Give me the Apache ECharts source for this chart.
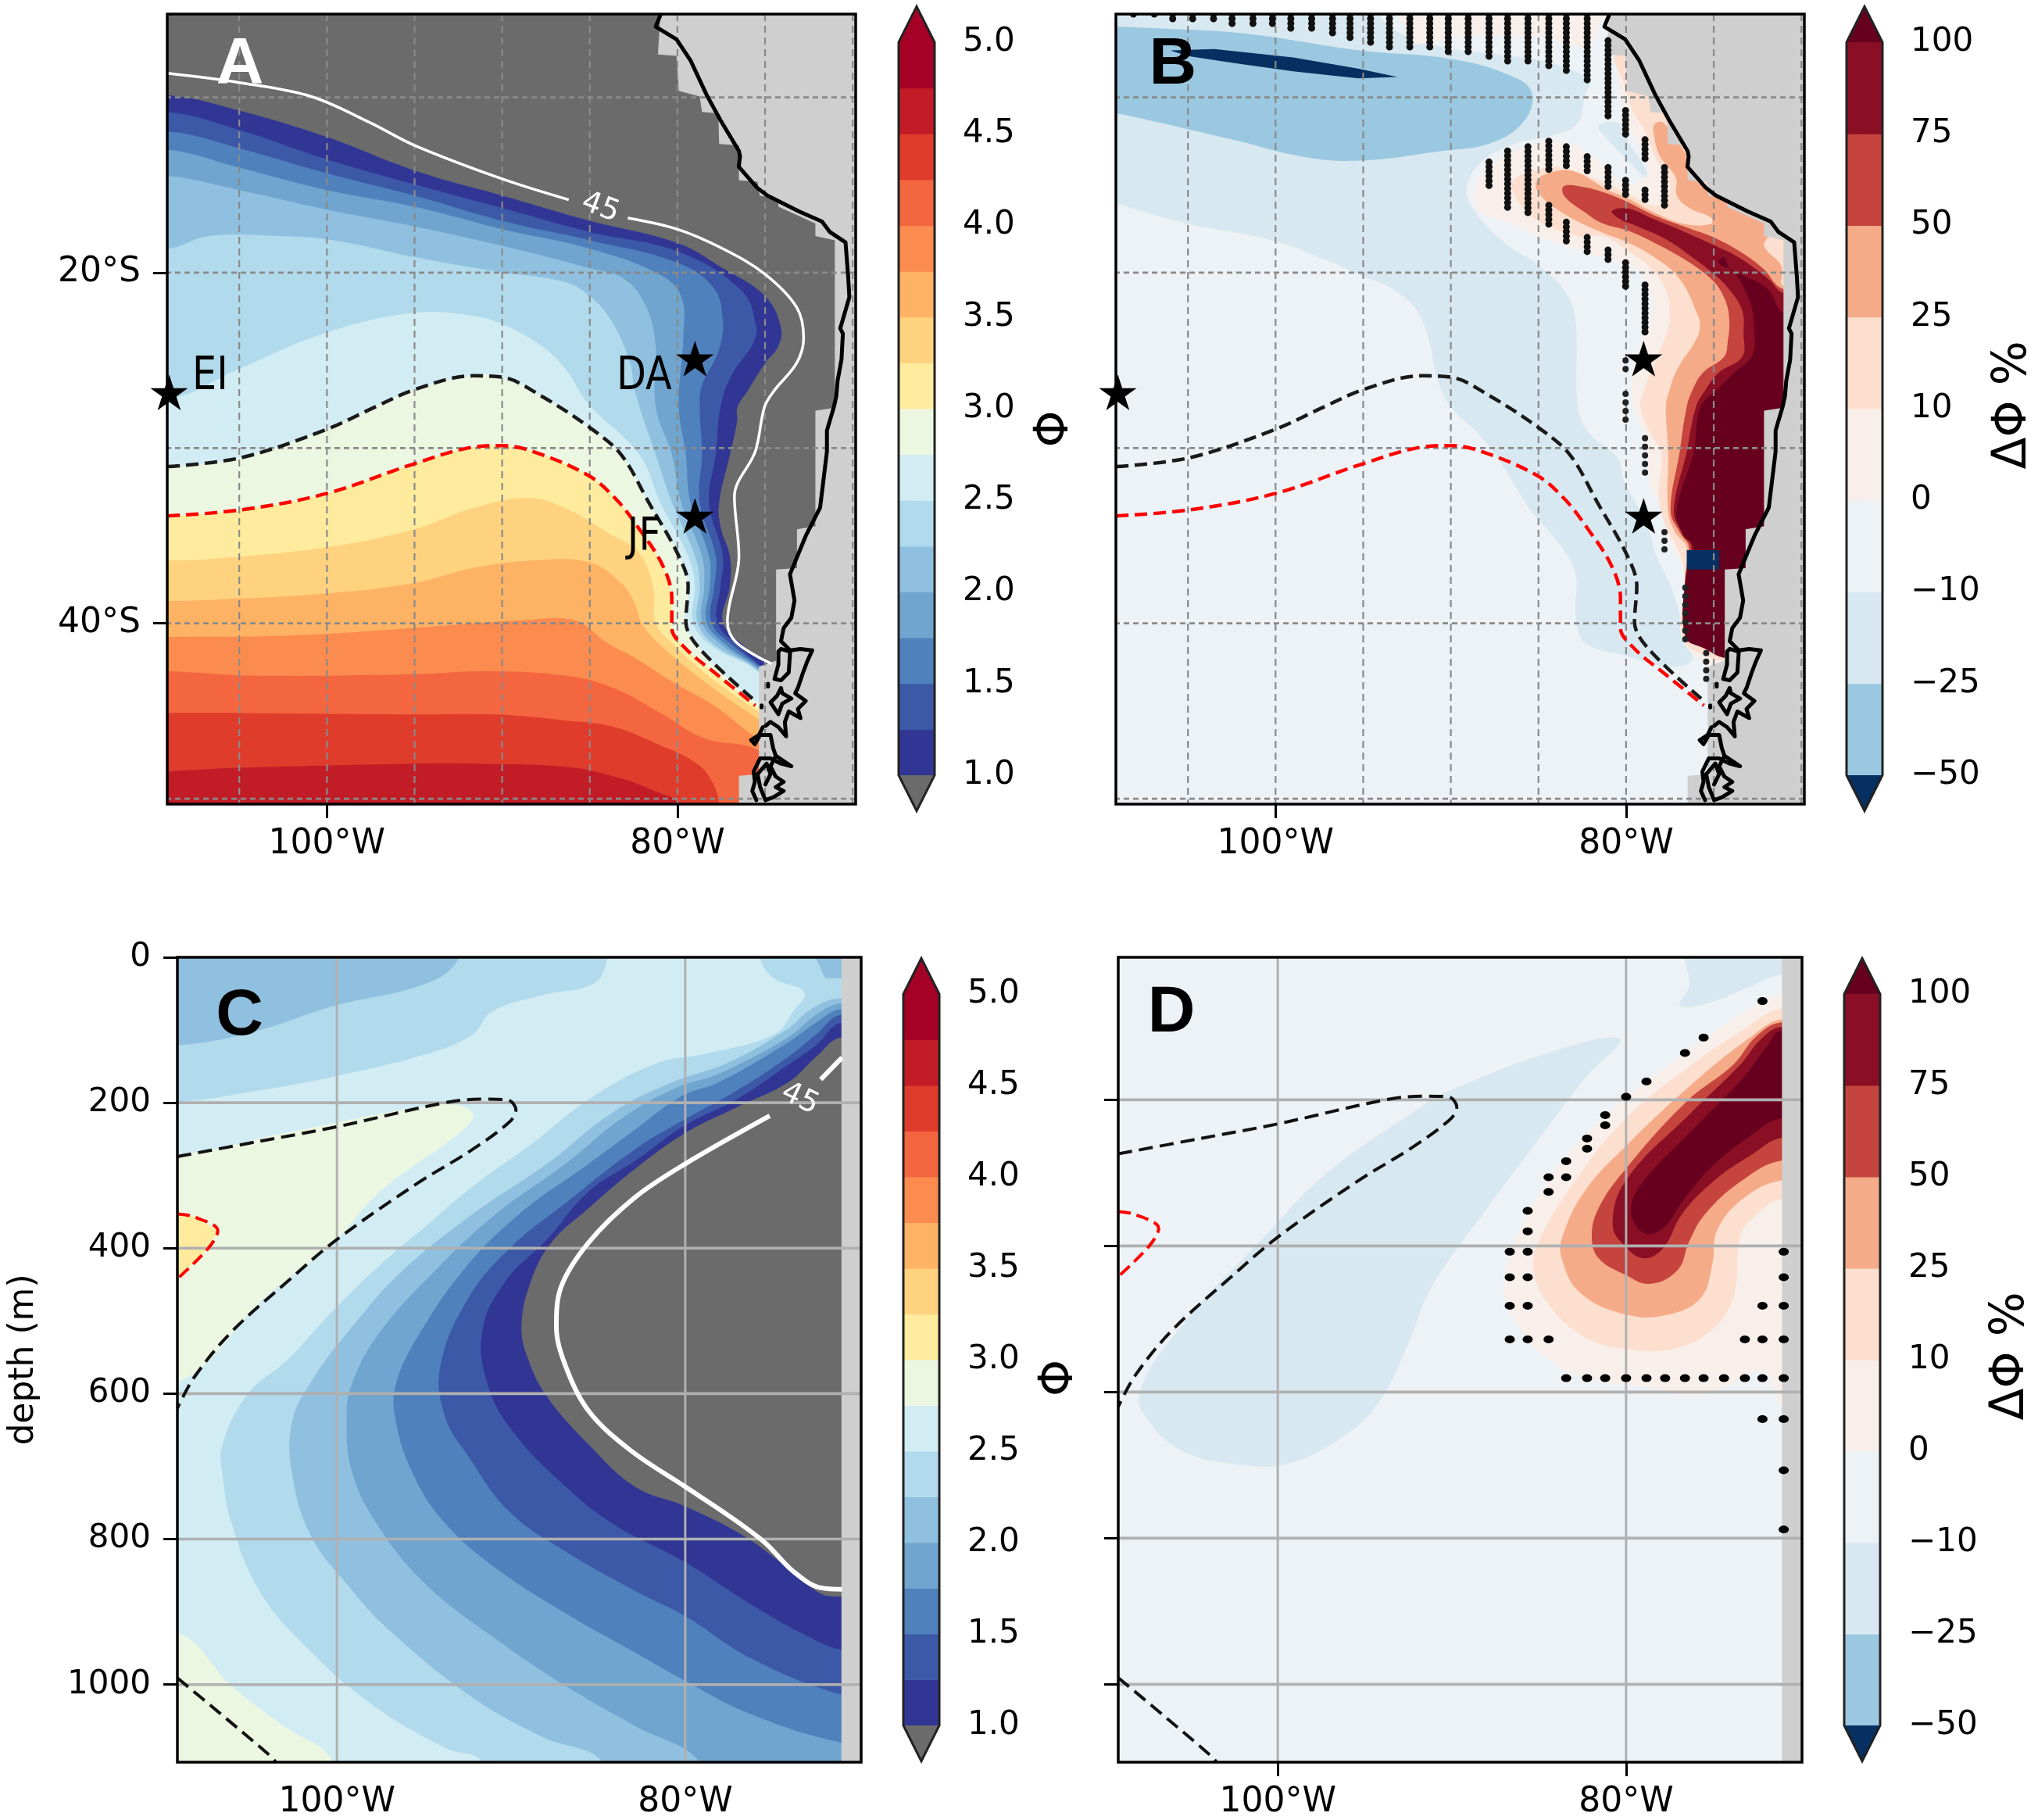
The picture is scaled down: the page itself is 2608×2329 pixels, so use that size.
<!DOCTYPE html>
<html>
<head>
<meta charset="utf-8">
<style>html,body{margin:0;padding:0;background:#fff}#chart{width:2608px;height:2329px}</style>
<script src="https://cdn.jsdelivr.net/npm/echarts@6/dist/echarts.min.js"></script>
</head>
<body>
<div id="chart"></div>
<script>
// colour bar levels
const phiLevels = [1, 1.25, 1.5, 1.75, 2, 2.25, 2.5, 2.75, 3, 3.25, 3.5, 3.75, 4, 4.25, 4.5, 4.75, 5];
const phiColors = ['#313695', '#3c59a8', '#4f81bc', '#6fa5cf', '#90c0df', '#b1daec', '#d2ecf4', '#ecf7e2',
  '#feeb9e', '#fed27f', '#fdb264', '#fc8b4f', '#f4663f', '#df3c2c', '#c21c27', '#a50026'];
const phiUnder = '#6b6b6b';
const deltaTicks = [-50, -25, -10, 0, 10, 25, 50, 75, 100];
const deltaColors = ['#9ac8e0', '#d8e8f1', '#edf2f6', '#f8efea', '#fddfcf', '#f5ab88', '#c5443e', '#8a0f25'];
const deltaUnder = '#053061';
const deltaOver = '#67001f';
const landColor = '#cfcfcf';

// panel A, phi contours as [lon W, lat S], low to high
const a100 = [[109.1,9.87],[105,10.75],[100,12.26],[95,14.17],[90,15.6],[85,17.04],[80,18.31],[77.4,19.75],[75,21.34],[74.1,23.09],[74.25,24.2],[75,25.16],[76,26.75],[76.57,27.65],[76.6,28.5],[77,30.37],[77.62,33.1],[77.54,34.5],[77.01,36.17],[77.01,37.87],[77.41,39.91],[76.22,41.28],[74.64,42.47]];
const a125 = [[109.1,10.83],[105,11.86],[100,13.54],[95,14.97],[90,16.32],[85,17.68],[80,18.79],[76.35,21.02],[75.51,23.09],[75.69,24.04],[76.88,25.8],[77.54,27.64],[77.81,30.37],[78.2,33.1],[77.41,36.17],[77.54,37.87],[77.73,39.91],[76.57,41.28],[75.2,42.47]];
const a150 = [[109.1,11.94],[105,12.9],[100,14.33],[95,15.6],[90,17.04],[85,18.15],[80,19.43],[77.94,20.86],[77.41,22.77],[77.67,24.52],[78.6,26.43],[78.73,27.64],[78.6,30.37],[78.73,33.1],[77.81,36.17],[77.89,37.87],[78.07,39.91],[76.83,41.28],[75.3,42.47]];
const a175 = [[109.1,12.98],[105,14.01],[100,15.29],[95,16.24],[90,17.52],[85,18.63],[81.1,20.06],[79.79,21.34],[79.66,23.57],[79.92,27.64],[79.52,30.37],[79.26,33.1],[78.2,36.17],[78.15,37.87],[78.34,39.91],[77.15,41.28],[75.4,42.5]];
const a200 = [[109.1,14.49],[105,15.29],[100,16.4],[95,17.36],[90,18.47],[85,19.75],[83,20.38],[81.77,21.97],[81.24,24.2],[81.24,27.64],[80.32,30.37],[79.79,33.1],[78.6,36.17],[78.47,37.87],[78.6,39.91],[77.41,41.28],[75.5,42.55]];
const a225 = [[109.1,18.63],[106.74,17.91],[102.77,17.91],[99.6,18.15],[95,19.11],[90,19.98],[86.4,20.54],[85,21.34],[83.75,22.77],[82.7,25.16],[82.43,26.75],[81.24,30.37],[80.32,33.1],[79,36.17],[78.73,37.87],[78.86,39.91],[77.81,41.28],[75.5,42.6]];
const a250 = [[109.1,27.23],[105,25.48],[100,23.41],[95,22.29],[91.68,22.45],[90,22.93],[87.71,24.2],[86.39,25.48],[85.02,27.55],[82.17,30.37],[80.98,33.1],[79.39,36.17],[79,37.87],[79.13,39.91],[78.07,41.28],[75.5,42.7]];
const blackA = [[109.1,31.06],[104.89,30.55],[100,28.93],[97.23,27.65],[95,26.67],[91.68,25.88],[90,25.96],[87.71,27.07],[85.02,28.82],[83.22,30.37],[81.64,33.1],[79.92,36.17],[79.39,37.87],[79.52,39.91],[78.73,41.45],[75.56,44.43]];
const redA = [[109.1,33.87],[104.89,33.53],[100,32.59],[95,30.89],[91.68,29.95],[90,29.86],[88.24,30.2],[85.07,31.57],[83.49,32.93],[82.17,34.63],[80.85,36.68],[80.32,38.55],[80.32,40.26],[79.52,41.45],[77.67,42.98],[75.56,44.68]];
const a325 = [[109.1,36.42],[106.74,36.34],[100,35.66],[95,34.63],[91.68,33.44],[88.51,32.85],[86.39,33.44],[83.75,34.97],[82.17,36],[81.37,38.04],[81.24,40],[80.32,41.11],[78.47,42.81],[75.4,45.03]];
const a350 = [[109.1,38.72],[106.21,38.64],[100,38.3],[95,37.7],[91.68,36.85],[88.24,36.42],[85.07,36.51],[83.22,37.7],[82.43,38.9],[82.03,40],[81.11,41.11],[78.47,43.32],[75.4,45.45]];
const a375 = [[109.1,40.77],[101.72,40.68],[95,40.26],[88.77,39.83],[85.87,39.83],[84.02,41.11],[82.17,42.13],[80.32,43.32],[77.94,44.68],[75.4,46.56]];
const a400 = [[109.1,42.73],[104.36,42.98],[95,42.9],[90.89,42.73],[86.39,42.98],[83.75,43.66],[81.11,45.03],[78.47,46.56],[75.4,47.24]];
const a425 = [[109.1,45.11],[106.21,45.11],[95,45.2],[90.36,45.2],[86.39,45.54],[83.75,45.88],[81.11,46.9],[79,47.92],[78.07,48.94],[77.62,50.31],[77.6,52]];
const a450 = [[109.1,48.43],[105.68,48.26],[95,48],[91.68,48],[86.39,48.18],[83.75,48.69],[81.11,49.63],[79.92,50.31],[79.8,52]];
const white45A1 = [[109.1,8.63],[105,9.16],[100.9,9.95],[97.5,11.46],[95,12.74],[90,14.65],[86.2,15.84]];
const white45A2 = [[82.83,16.88],[80,17.52],[77.41,18.63],[75.03,20.06],[73.2,21.97],[72.8,23.73],[73.2,25.16],[74.5,26.75],[75.03,27.65],[75.56,30.2],[76.75,32.76],[76.49,36.17],[77.15,39.91],[76.62,41.11],[74.64,42.3]];

// land and coast
const landMask = [[80.98,0],[80.98,5.33],[81.11,7.56],[80.05,7.64],[79.92,9.63],[78.73,9.95],[78.6,10.83],[77.67,10.91],[77.62,12.66],[76.49,12.74],[76.49,14.73],[75.43,14.81],[75.3,15.6],[74.24,15.84],[74.24,16.24],[73.18,16.72],[72.13,17.2],[72.13,17.91],[71.02,18.15],[71.02,27.7],[72.13,27.87],[72.13,34.46],[73.18,34.63],[73.18,36.85],[74.37,36.93],[74.37,42.13],[75.35,42.47],[75.35,48.6],[76.49,48.69],[76.49,52],[60,52],[60,0]];
const coast = [[80.98,5.33],[81.24,5.97],[80.05,6.69],[79.26,7.88],[78.33,9.87],[77.54,11.31],[76.49,13.06],[76.43,13.37],[76.5,13.96],[75.46,15.15],[74.87,15.6],[73.09,16.49],[71.75,17.08],[71.3,17.68],[70.41,18.27],[70.26,20.2],[70.19,21.39],[70.71,23.18],[70.56,23.47],[70.64,24.96],[70.86,26.15],[70.94,27.07],[71.07,27.65],[71.47,29],[71.47,30.2],[71.86,33.4],[72.66,34.97],[73.58,37.2],[73.32,38.7],[73.5,39.68],[73.94,40.27],[74.09,41.02],[73.57,41.54]];
const fjord1 = [[74.09,41.46],[73.57,41.61],[73.65,42.8],[74.09,43.25],[74.46,43.17],[74.24,42.35],[74.24,41.61],[74.09,41.46]];
const fjord2 = [[73.57,41.54],[72.98,41.46],[72.31,41.54],[72.61,42.21],[72.83,42.8],[73.13,43.69],[73.28,43.99],[72.68,44.43],[73.13,44.88],[72.98,45.4],[73.65,45.03],[73.87,45.62],[73.8,46.44],[74.24,45.92],[74.69,45.62],[74.98,45.85]];
const fjord3 = [[74.09,43.69],[74.32,44.14],[74.69,44.51],[74.24,45.18],[74.02,44.58],[73.5,44.29],[74.02,43.99],[74.09,43.69]];
const fjord4 = [[75.13,45.92],[75.35,46.37],[75.8,46.66],[75.58,46.89],[75.28,46.37],[74.69,46.37],[74.54,47.11],[74.39,47.55],[73.5,48.15],[74.09,48],[74.69,47.7],[75.28,47.7],[75.65,48.45],[75.58,49.04],[75.73,49.56],[75.5,50.08]];
const fjord5 = [[74.39,47.55],[74.69,48.15],[74.39,48.74],[73.94,49.04],[74.39,49.34],[73.94,49.56],[74.54,49.93],[74.98,50.08],[75.28,49.34],[75.43,48.6],[74.91,48],[74.69,48.6],[74.98,49.19]];
const islet1 = [[74.83,43.45],[74.83,43.6]];
const islet2 = [[75.2,44.68],[75.2,44.8]];
const sites = [[109,26.83],[79,24.9],[79,33.87]];

// panel B, delta phi regions
const bLight = [[112,5],[94.5,5],[93.45,6.05],[90.28,7.17],[86.58,7.64],[83.94,8.12],[82.09,9.08],[82.35,9.87],[82.75,11.46],[83.94,12.1],[86.58,12.74],[88.43,13.85],[89.09,15.29],[88.69,16.4],[87.11,18.15],[84.99,19.59],[83.41,21.18],[82.88,22.77],[82.75,27.65],[82.09,29.18],[80.5,30.55],[80.11,31.9],[79.18,33.6],[78.65,34.8],[78.26,36.17],[77.33,38.2],[76.67,40.6],[76.27,42.13],[77.6,42.47],[79.97,41.87],[82.35,41.11],[82.88,39.57],[82.88,37.19],[83.67,35.66],[85.52,33.44],[87.11,30.89],[88.43,29.18],[90.01,27.65],[90.8,25.96],[91.2,24.04],[91.86,22.29],[93.18,21.02],[95.19,20.14],[97.15,19.27],[100.2,18.15],[105.07,17.2],[109.04,16.08],[112,15.3]];
const bWedge = [[81.56,11.62],[80.5,11.46],[79.97,12.42],[78.92,14.01],[78.65,14.8],[79.97,13.54],[81.03,12.42]];
const bMid = [[112,5.9],[109.04,5.97],[106.92,6.05],[101.64,6.37],[95.19,7.32],[90.01,7.8],[86.58,8.76],[85.39,9.71],[85.79,11.31],[87.64,12.58],[90.54,13.06],[95.19,13.61],[98.47,13.38],[102.43,12.42],[109.04,10.91],[112,10.4]];
const bDark = [[106,7.32],[103.49,7.24],[99,7.72],[95.3,8.36],[93.05,8.84],[95.3,8.92],[99,8.52],[102.43,8.04],[105.07,7.64]];
const bTopWarm = [[93.2,5],[92,7],[89,6.5],[85,6.5],[82,7.3],[81.2,5]];
const bGe0 = [[81.16,6.05],[80.63,7.48],[80.37,9.71],[79.97,11.46],[79.31,12.74],[78.78,14.33],[79.97,14.97],[81.29,13.85],[82.62,12.9],[83.94,12.5],[86.05,12.9],[87.64,13.85],[88.56,14.97],[88.43,16.4],[86.58,17.2],[83.94,18.31],[80.77,19.3],[79.47,19.76],[78.73,20.8],[78.5,22.29],[79.17,24.07],[79.62,25.7],[79.58,27.65],[78.92,29.35],[78.65,31.9],[77.99,33.6],[77.6,35.14],[76.67,37.19],[76.8,40.9],[74.95,42.6],[74.16,43],[68,43],[68,5],[81,5]];
const bGe10 = [[80.5,7.56],[68,7.5],[68,43],[74.29,42.13],[75.22,41.96],[76.75,40.9],[76.67,37.19],[77.01,35.83],[77.73,34.46],[78.13,32.76],[77.99,30.2],[78.52,29.35],[79.18,27.64],[78.88,26.45],[78.43,25.26],[77.69,23.47],[77.51,22.43],[77.69,21.1],[78.43,19.91],[79.92,18.72],[81.4,17.9],[82.62,17.95],[84.99,17.04],[86.18,15.92],[86.45,14.81],[85.26,14.17],[83.67,14.01],[81.82,14.65],[79.97,15.45],[78.28,16.19],[77.47,15.15],[78.36,13.37],[78.92,11.94],[79.58,10.83],[80.11,9.24]];
const bGe25 = [[78.39,11.54],[77.86,11.46],[76.54,13.38],[76.27,14.49],[74.95,15.45],[72.18,16.88],[71.9,17.83],[72.12,18.5],[71.15,19.61],[71,20.8],[68,21],[68,43],[74.69,41.79],[76.01,41.19],[76.62,40.77],[76.62,37.36],[76.54,35.66],[77.2,34.8],[77.6,33.6],[77.6,30.2],[77.73,27.64],[77.54,26.74],[77.1,25.55],[75.98,23.77],[75.79,23.03],[75.91,22.43],[76.95,20.35],[78.43,19.09],[79.92,18.27],[81.82,17.52],[83.67,16.56],[84.86,15.61],[85.13,14.81],[84.2,14.25],[82.88,14.25],[81.03,15.29],[79.92,15.75],[78.43,16.56],[76.65,17.23],[75.16,17.23],[75.16,16.86],[76.35,16.34],[77.1,15.6],[77.17,14.56],[78.06,13.37],[78.39,12.26]];
const bGe50 = [[83.54,15.05],[82.35,15.13],[81.4,15.38],[80.06,15.9],[78.43,16.71],[76.65,17.38],[74.86,18.05],[73.38,18.87],[72.19,19.76],[71,20.95],[68,21],[68,43],[74.42,41.79],[75.75,41.28],[76.62,40.77],[76.62,37.36],[76.41,35.66],[76.94,34.8],[77.46,33.6],[76.94,30.2],[76.54,27.65],[76.2,26.67],[75.61,25.7],[74.42,24.81],[74.2,23.92],[74.12,22.58],[74.42,21.39],[75.16,20.35],[76.8,19.16],[78.43,18.27],[79.92,17.6],[81.4,17.16],[82.35,16.56],[83.54,15.61]];
const bGe75 = [[80.81,16.49],[79.92,16.34],[78.43,16.94],[76.65,17.68],[75.01,18.42],[73.53,19.16],[71.9,20.35],[71,21.17],[68,21.5],[68,43],[74.42,41.85],[75.61,41.36],[76.6,40.8],[76.6,37.4],[76.27,35.66],[76.8,34.8],[77.28,33.6],[76.54,30.2],[76.01,27.65],[75.46,26.67],[74.72,25.7],[73.38,24.81],[73.3,23.47],[73.38,22.14],[74.12,20.95],[75.01,20.06],[76.36,19.02],[77.69,18.12],[79.47,17.31],[80.36,16.94]];
const bGe100 = [[74.42,19.09],[74.05,19.83],[73.53,20.06],[71.9,20.95],[71,22.29],[68,22.5],[68,43],[74.42,41.96],[75.48,41.45],[76.6,40.77],[76.6,37.4],[76.14,35.66],[76.75,34.97],[77.12,33.6],[76.14,30.2],[75.75,27.65],[74.79,26.67],[73.83,25.7],[72.79,24.66],[72.72,22.88],[72.93,21.69],[73.83,19.98],[74.72,19.46]];
const bBox = [[76.54,35.83],[74.69,35.83],[74.69,36.93],[76.54,36.93]];

// panel B stippling, columns as [lon W, lat start, lat end]
const stippleDense = [[108.11,5.25,5.41],[106.92,5.25,5.49],[105.87,5.25,5.57],[104.73,5.25,5.57],[103.54,5.25,5.6],[102.48,5.25,5.89],[101.29,5.25,5.89],[100.18,5.25,5.89],[99.13,5.25,6.18],[97.94,5.25,6.18],[96.75,5.25,6.5],[95.75,5.25,6.82],[94.58,5.25,7.09],[93.5,5.25,7.25],[92.34,5.25,7.25],[91.2,5.25,7.25],[90.15,5.25,7.48],[89.01,5.25,7.48],[87.82,5.25,7.83],[86.76,5.25,8.12],[85.6,5.25,8.12],[84.41,5.25,8.36],[83.41,5.25,8.57],[82.22,5.25,9.16],[81.03,6.77,11.31],[80.03,10.75,12.34],[78.92,12.42,13.69],[87.82,13.69,15.29],[86.76,13.06,16.48],[85.6,12.82,16.8],[84.41,12.5,14.25],[84.41,16.16,17.36],[83.41,12.82,14.01],[83.41,17.12,18.23],[82.22,13.38,14.25],[82.22,17.99,18.95],[81.03,14.01,15.29],[81.03,18.71,19.27],[80.03,14.73,15.61],[80.03,19.43,20.78],[78.92,15.29,16.08],[77.81,14.01,16.4],[78.92,20.7,23.49]];
const stippleSparse = [[80.03,25,25.88],[80.03,26.91,28.67],[78.92,29.44,31.74],[77.81,34.8,36],[76.62,37.96,41.36],[75.43,41.7,43.49]];

// panel C, phi at depth as [lon W, depth m]
const cGreen1 = [[109.16,272],[102.85,241],[93.8,202],[92.2,214],[92.73,237],[97.52,322],[100.19,392],[104.18,469],[109.16,585],[115,585],[115,272]];
const cGreen2 = [[109.16,929],[106.05,1002],[103.12,1056],[100.19,1107],[100,1200],[115,1200],[115,929]];
const cYellow = [[109.16,353],[108.18,357],[106.84,376],[107.38,400],[109.16,442],[115,442],[115,353]];
const cCap250 = [[109.16,199],[104.45,183],[100.19,164],[94.86,133],[92.2,106],[91.13,75],[88.2,52],[85.27,36],[84.47,1.5],[84.3,-50],[115,-50],[115,199]];
const cCap225 = [[109.16,121],[104.71,102],[100.19,67],[94.86,36],[93,1.5],[92.8,-50],[115,-50],[115,121]];
const cCorner225 = [[72.49,1.5],[71.96,29],[71,29],[65,29],[65,-50],[72.5,-50]];
const c250 = [[75.69,1.5],[74.89,29],[73.16,48],[73.82,75],[74.89,106],[78.88,133],[81.54,145],[85.27,191],[89,260],[92.2,315],[94.86,369],[97.52,423],[100.19,485],[102.85,554],[105.11,600],[106.58,670],[106.58,709],[106.05,778],[104.45,871],[101.78,948],[98.06,1026],[93.8,1087],[91.66,1107],[91,1200],[65,1200],[65,-50],[75.69,-50]];
const c225 = [[71,56],[72.76,71],[74.09,98],[77.55,145],[80.75,172],[84.21,214],[87.94,284],[92.2,353],[96.19,430],[98.85,500],[101.52,585],[102.58,639],[102.58,709],[101.52,794],[99.39,863],[97,925],[92.2,1018],[88.2,1072],[84.74,1107],[84,1200],[65,1200],[65,56]];
const c200 = [[71,63],[72.49,79],[74.09,110],[78.08,160],[80.48,179],[83.67,222],[86.87,284],[90.87,353],[94.33,430],[97.52,515],[99.12,585],[99.44,631],[99.12,709],[97.52,786],[94.86,863],[91.13,933],[86.87,1002],[82.88,1057],[79.15,1107],[78,1200],[65,1200],[65,63]];
const c175 = [[71,71],[72.49,90],[74.09,117],[78.08,172],[80.21,191],[82.88,237],[85.54,284],[89.53,353],[92.73,430],[95.39,523],[96.59,585],[96.67,631],[95.66,709],[93.8,778],[90.87,840],[86.87,902],[82.88,956],[80,995],[76.22,1041],[71,1080],[65,1100],[65,71]];
const c150 = [[71,79],[72.49,106],[74.09,137],[77.02,183],[79.95,222],[82.88,264],[86.87,338],[90.07,400],[92.46,469],[94.06,562],[93.8,631],[92.46,686],[90.07,763],[86.87,817],[82.88,871],[80,906],[76.22,964],[71,1014],[65,1040],[65,79]];
const c125 = [[71,90],[72.49,121],[74.09,148],[77.02,195],[79.95,230],[82.88,280],[85.54,322],[87.94,388],[90.33,446],[91.66,515],[91.27,593],[89.8,655],[87.4,716],[84.21,778],[80,832],[76.22,890],[73.02,933],[71,952],[65,960],[65,90]];
const c100 = [[71,110],[72.49,137],[74.09,172],[77.02,206],[79.95,241],[82.88,291],[85.54,345],[87.67,392],[88.87,446],[89.4,508],[89,554],[87.94,604],[85.54,670],[82.88,728],[80,755],[76.75,794],[74.09,840],[72.22,875],[71,879],[65,880],[65,110]];
const blackTongue = [[109.16,274],[104.45,253],[100,233],[93.8,200],[91.66,195],[90.2,196],[89.72,210],[90.07,226],[92.2,264],[95.39,311],[100,388],[102.85,446],[106.05,515],[108.18,577],[109.16,620]];
const blackBottom = [[109.16,991],[106.84,1037],[103.78,1099],[103.5,1107]];
const redPatch = [[109.16,353],[108.18,357],[106.84,376],[107.38,400],[109.16,442]];
const white45C1 = [[71,138],[72.22,168]];
const white45C2 = [[75.15,218],[80,284],[82.88,330],[85.54,392],[87.14,454],[87.4,508],[86.87,562],[85.54,624],[83.14,678],[80,728],[77.55,767],[75.42,805],[73.82,844],[72.22,867],[71,869]];

// panel D, delta phi at depth
const dLight = [[80.37,117],[83.97,132],[90.36,190],[92.22,217],[97.28,302],[100.75,387],[105.27,502],[107.94,602],[107.14,648],[105.27,683],[102.61,698],[99.41,698],[95.95,656],[94.09,610],[92.49,533],[91.16,456],[87.96,348],[85.3,263],[82.37,171]];
const dLightTop = [[76.64,5],[76.38,44],[76.91,71],[75.18,67],[72.78,44],[71.05,29],[65,29],[65,-50],[76.64,-50]];
const dGe0 = [[71.05,55],[73.32,82],[77.31,148],[81.3,225],[84.23,302],[86.36,394],[87.03,456],[86.36,502],[85.03,544],[82.64,579],[78.64,594],[75.98,606],[73.85,587],[72.25,571],[71.45,594],[71.05,617],[65,620],[65,55]];
const dGe10 = [[71.05,75],[73.32,105],[76.24,152],[80,225],[82.9,310],[85.03,394],[85.3,433],[84.5,479],[82.37,525],[80,541],[77.31,541],[75.18,517],[73.85,471],[73.45,387],[72.78,363],[71.05,336],[65,330],[65,75]];
const dGe25 = [[71.05,90],[72.78,113],[76.24,179],[80,263],[82.37,325],[83.65,387],[83.7,417],[82.64,464],[80,494],[77.58,494],[75.71,471],[75.05,425],[74.78,379],[73.32,336],[71.05,310],[65,300],[65,90]];
const dGe50 = [[71.05,94],[72.52,113],[73.85,152],[76.51,202],[80,294],[81.57,348],[81.97,387],[81.57,417],[80,440],[78.64,452],[77.04,433],[76.38,394],[75.45,356],[73.32,310],[71.05,283],[65,275],[65,94]];
const dGe75 = [[71.05,100],[72.25,117],[73.45,152],[76.24,217],[80,310],[80.77,371],[80,402],[78.91,417],[77.84,402],[76.78,356],[74.91,310],[72.78,275],[71.05,252],[65,245],[65,100]];
const dGe100 = [[71.05,105],[71.98,129],[73.32,171],[75.98,236],[79.17,317],[79.71,356],[78.91,383],[77.84,375],[76.78,340],[75.18,294],[72.78,248],[71.05,225],[65,215],[65,105]];
const dDots = [[72.17,65],[75.55,115],[76.62,136],[78.83,175],[80,196],[81.2,221],[81.2,235],[82.24,253],[82.24,267],[83.44,284],[83.44,306],[84.45,306],[84.45,326],[85.65,352],[85.65,380],[86.68,408],[85.65,408],[70.95,408],[86.68,443],[85.65,443],[70.95,443],[86.68,482],[85.65,482],[72.17,482],[70.95,482],[86.68,528],[85.65,528],[84.45,528],[73.18,528],[72.17,528],[70.95,528],[83.44,581],[82.24,581],[81.2,581],[80,581],[78.83,581],[77.76,581],[76.62,581],[75.55,581],[74.38,581],[73.18,581],[72.17,581],[70.95,581],[72.17,637],[70.95,637],[70.95,707],[70.95,788]];

// axis ticks and grid
const lonTicks = [100, 80];
const latTicks = [20, 40];
const depthTicks = [0, 200, 400, 600, 800, 1000];
const mapLonGrid = [105, 100, 95, 90, 85, 80, 75, 70];
const mapLatGrid = [10, 20, 30, 40, 50];
const secLonGrid = [100, 80];
const secDepthGrid = [200, 400, 600, 800, 1000];

const FONT = '"DejaVu Sans"';
const starPath = 'path://M0 -100L22.5 -30.9L95.1 -30.9L36.3 11.8L58.8 80.9L0 38.2L-58.8 80.9L-36.3 11.8L-95.1 -30.9L-22.5 -30.9Z';

// grid 0-3 the panels, 4-7 the colour bars
const panels = [
  { left: 214, top: 18, width: 881, height: 1011, x: [69.83, 109.11], y: [5.25, 50.31] },
  { left: 1428, top: 18, width: 881, height: 1011, x: [69.83, 109.11], y: [5.25, 50.31] },
  { left: 227, top: 1225, width: 875, height: 1030, x: [69.9, 109.16], y: [0, 1106.7] },
  { left: 1431, top: 1225, width: 875, height: 1030, x: [69.9, 109.16], y: [5, 1106.5] }
];
const bars = [
  { left: 1150, top: 54, width: 46, height: 938 },
  { left: 2363, top: 54, width: 46, height: 938 },
  { left: 1156, top: 1272, width: 46, height: 936 },
  { left: 2360, top: 1272, width: 46, height: 936 }
];

// one custom series: polygons, polylines and texts through the axis scales
function layer(g, items, z, clip) {
  return {
    type: 'custom', coordinateSystem: 'cartesian2d', xAxisIndex: g, yAxisIndex: g,
    clip: clip !== false, silent: true, z: z, animation: false,
    data: items.map((_, i) => [i]),
    renderItem: (params, api) => {
      const it = items[params.dataIndex];
      if (it.text) {
        const p = api.coord(it.at);
        return { type: 'text', x: p[0], y: p[1], rotation: it.rotation || 0, scaleX: it.scaleX || 1,
          style: { text: it.text, font: it.font, fill: it.color || '#000', align: 'center', verticalAlign: 'middle' } };
      }
      const pts = it.pts.map(p => api.coord(p));
      if (it.fill) {
        return { type: 'polygon', shape: { points: pts, smooth: it.smooth || 0 },
          style: { fill: it.fill, stroke: it.stroke, lineWidth: it.width || 0 } };
      }
      return { type: it.closed ? 'polygon' : 'polyline', shape: { points: pts },
        style: { fill: 'none', stroke: it.stroke, lineWidth: it.width, lineDash: it.dash, lineCap: it.cap || 'butt' } };
    }
  };
}

function contour(g, pts, color, width, dash) {
  return {
    type: 'line', xAxisIndex: g, yAxisIndex: g, data: pts, symbol: 'none', smooth: 0.35, clip: true, silent: true,
    z: 6, animation: false, lineStyle: { color: color, width: width, type: dash || 'solid' }
  };
}

function coastLine(g, pts) {
  return { type: 'line', xAxisIndex: g, yAxisIndex: g, data: pts, symbol: 'none', clip: true, silent: true,
    z: 5, animation: false, lineStyle: { color: '#000', width: 5, join: 'round', cap: 'round' } };
}

function stars(g) {
  return { type: 'scatter', xAxisIndex: g, yAxisIndex: g, data: sites, symbol: starPath, symbolSize: 48,
    symbolKeepAspect: true, clip: true, silent: true, z: 7, animation: false, itemStyle: { color: '#000', opacity: 1 } };
}

// closes a contour that runs from the west edge to the coast around the south side
function southWest(curve) {
  const first = curve[0];
  return curve.concat([[60, 56], [115, 56], [115, first[1]]]);
}

function rectOf(p) {
  return [[p.x[0], p.y[0]], [p.x[1], p.y[0]], [p.x[1], p.y[1]], [p.x[0], p.y[1]]];
}

function gridLines(p, lons, lats, stroke, width, dashV, dashH) {
  const out = [];
  lons.forEach(v => out.push({ pts: [[v, p.y[0]], [v, p.y[1]]], stroke: stroke, width: width, dash: dashV }));
  lats.forEach(v => out.push({ pts: [[p.x[0], v], [p.x[1], v]], stroke: stroke, width: width + 0.6, dash: dashH }));
  return out;
}

const series = [];
const S = 0.4;
const pA = panels[0], pB = panels[1], pC = panels[2], pD = panels[3];

// panel A
const aCurves = [a100, a125, a150, a175, a200, a225, a250, blackA, redA, a325, a350, a375, a400, a425, a450];
series.push(layer(0, [{ pts: rectOf(pA), fill: phiUnder }].concat(
  aCurves.map((c, i) => ({ pts: southWest(c), fill: phiColors[i], smooth: S }))), 2));
series.push(layer(0, [{ pts: landMask, fill: landColor }], 3));
series.push(layer(0, gridLines(pA, mapLonGrid, mapLatGrid, '#8a8a8a', 2.2, [9, 6], [7, 5]), 4));

// panel B
series.push(layer(1, [
  { pts: rectOf(pB), fill: deltaColors[2] },
  { pts: bLight, fill: deltaColors[1], smooth: S },
  { pts: bWedge, fill: deltaColors[1], smooth: S },
  { pts: bMid, fill: deltaColors[0], smooth: S },
  { pts: bDark, fill: deltaUnder },
  { pts: bTopWarm, fill: deltaColors[3] },
  { pts: bGe0, fill: deltaColors[3], smooth: S },
  { pts: bGe10, fill: deltaColors[4], smooth: S },
  { pts: bGe25, fill: deltaColors[5], smooth: S },
  { pts: bGe50, fill: deltaColors[6], smooth: S },
  { pts: bGe75, fill: deltaColors[7], smooth: S },
  { pts: bGe100, fill: deltaOver, smooth: S },
  { pts: bBox, fill: deltaUnder }
], 2));
series.push(layer(1, [{ pts: landMask, fill: landColor }], 3));
series.push(layer(1, gridLines(pB, mapLonGrid, mapLatGrid, '#8a8a8a', 2.2, [9, 6], [7, 5]), 4));
series.push(layer(1, stippleDense.map(c => ({ pts: [[c[0], c[1]], [c[0], c[2]]], stroke: '#111', width: 9, dash: [0.01, 6], cap: 'round' }))
  .concat(stippleSparse.map(c => ({ pts: [[c[0], c[1]], [c[0], c[2]]], stroke: '#222', width: 8, dash: [0.01, 11], cap: 'round' }))), 5));

// panel C, drawn from the pale base band toward the low values
series.push(layer(2, [
  { pts: rectOf(pC), fill: phiColors[6] },
  { pts: cGreen1, fill: phiColors[7], smooth: S },
  { pts: cGreen2, fill: phiColors[7], smooth: S },
  { pts: cYellow, fill: phiColors[8] },
  { pts: cCap250, fill: phiColors[5], smooth: S },
  { pts: cCap225, fill: phiColors[4], smooth: S },
  { pts: c250, fill: phiColors[5], smooth: S },
  { pts: cCorner225, fill: phiColors[4] },
  { pts: c225, fill: phiColors[4], smooth: S },
  { pts: c200, fill: phiColors[3], smooth: S },
  { pts: c175, fill: phiColors[2], smooth: S },
  { pts: c150, fill: phiColors[1], smooth: S },
  { pts: c125, fill: phiColors[0], smooth: S },
  { pts: c100, fill: phiUnder, smooth: S }
], 2));
series.push(layer(2, [{ pts: [[71.03, -50], [60, -50], [60, 1200], [71.03, 1200]], fill: landColor }], 3));
series.push(layer(2, gridLines(pC, secLonGrid, secDepthGrid, '#b0b0b0', 3), 4));

// panel D
series.push(layer(3, [
  { pts: rectOf(pD), fill: deltaColors[2] },
  { pts: dLight, fill: deltaColors[1], smooth: S },
  { pts: dLightTop, fill: deltaColors[1], smooth: S },
  { pts: dGe0, fill: deltaColors[3], smooth: S },
  { pts: dGe10, fill: deltaColors[4], smooth: S },
  { pts: dGe25, fill: deltaColors[5], smooth: S },
  { pts: dGe50, fill: deltaColors[6], smooth: S },
  { pts: dGe75, fill: deltaColors[7], smooth: S },
  { pts: dGe100, fill: deltaOver, smooth: S }
], 2));
series.push(layer(3, [{ pts: [[71.05, -50], [60, -50], [60, 1200], [71.05, 1200]], fill: landColor }], 3));
series.push(layer(3, gridLines(pD, secLonGrid, secDepthGrid, '#b0b0b0', 3), 4));
series.push({ type: 'scatter', xAxisIndex: 3, yAxisIndex: 3, data: dDots, symbolSize: [13, 10], clip: true, silent: true,
  z: 7, animation: false, itemStyle: { color: '#000', opacity: 1 } });

// contours, coast, stars
[0, 1].forEach(g => {
  [coast, fjord1, fjord2, fjord3, fjord4, fjord5, islet1, islet2].forEach(c => series.push(coastLine(g, c)));
  series.push(contour(g, blackA, '#1a1a1a', 4.5, [16, 8]));
  series.push(contour(g, redA, '#ff0000', 4.5, [16, 8]));
  series.push(stars(g));
});
series.push(contour(0, white45A1, '#fff', 3.5));
series.push(contour(0, white45A2, '#fff', 3.5));
[2, 3].forEach(g => {
  series.push(contour(g, blackTongue, '#111', 4, [18, 9]));
  series.push(contour(g, blackBottom, '#111', 4, [18, 9]));
  series.push(contour(g, redPatch, '#ff0000', 4, [16, 8]));
});
series.push(contour(2, white45C1, '#fff', 6));
series.push(contour(2, white45C2, '#fff', 6));

// frames and texts
const LETTER = 'bold 84px "Liberation Sans"';
panels.forEach((p, g) => {
  series.push(layer(g, [{ pts: rectOf(p), stroke: '#000', width: 3.5, closed: true }], 8, false));
});
series.push(layer(0, [
  { text: 'A', at: [104.96, 8.2], font: LETTER, color: '#fff' },
  { text: '45', at: [84.4, 16.3], font: '38px ' + FONT, color: '#fff', rotation: -0.36 },
  { text: 'EI', at: [106.66, 25.96], font: '58px ' + FONT, scaleX: 0.85 },
  { text: 'DA', at: [81.9, 25.96], font: '58px ' + FONT, scaleX: 0.85 },
  { text: 'JF', at: [81.9, 35.14], font: '58px ' + FONT, scaleX: 0.85 }
], 9));
series.push(layer(1, [{ text: 'B', at: [105.86, 8.2], font: LETTER }], 9));
series.push(layer(2, [
  { text: 'C', at: [105.59, 82], font: LETTER },
  { text: '45', at: [73.42, 195], font: '38px ' + FONT, color: '#fff', rotation: -0.45 }
], 9));
series.push(layer(3, [{ text: 'D', at: [106.1, 82], font: LETTER }], 9));

// colour bars
function phiBar(g, label) {
  const items = [];
  phiColors.forEach((c, i) => items.push({ pts: [[0, phiLevels[i]], [1, phiLevels[i]], [1, phiLevels[i + 1]], [0, phiLevels[i + 1]]], fill: c, stroke: c, width: 1 }));
  items.push({ pts: [[0, 5], [1, 5], [0.5, 5.195]], fill: phiColors[15] });
  items.push({ pts: [[0, 1], [1, 1], [0.5, 0.805]], fill: phiUnder });
  items.push({ pts: [[0, 1], [0.5, 0.805], [1, 1], [1, 5], [0.5, 5.195], [0, 5]], stroke: '#222', width: 3, closed: true });
  items.push({ text: 'Φ', at: label, font: '60px ' + FONT, rotation: Math.PI / 2 });
  series.push(layer(g, items, 5, false));
}
function deltaBar(g, label) {
  const items = [];
  deltaColors.forEach((c, i) => items.push({ pts: [[0, i], [1, i], [1, i + 1], [0, i + 1]], fill: c, stroke: c, width: 1 }));
  items.push({ pts: [[0, 8], [1, 8], [0.5, 8.39]], fill: deltaOver });
  items.push({ pts: [[0, 0], [1, 0], [0.5, -0.39]], fill: deltaUnder });
  items.push({ pts: [[0, 0], [0.5, -0.39], [1, 0], [1, 8], [0.5, 8.39], [0, 8]], stroke: '#222', width: 3, closed: true });
  items.push({ text: 'ΔΦ %', at: label, font: '60px ' + FONT, rotation: Math.PI / 2 });
  series.push(layer(g, items, 5, false));
}
phiBar(4, [4.35, 2.89]);
deltaBar(5, [4.65, 4.04]);
phiBar(6, [4.35, 2.9]);
deltaBar(7, [4.65, 4.04]);

function phiAxis(g) {
  return { gridIndex: g, type: 'value', position: 'right', min: 1, max: 5, interval: 0.5, splitLine: { show: false }, axisLine: { show: false },
    axisTick: { length: 20, lineStyle: { color: '#000', width: 3 } },
    axisLabel: { formatter: v => v.toFixed(1), fontFamily: 'DejaVu Sans', fontSize: 42, color: '#000', margin: 36, padding: [14, 0, 0, 0] } };
}
function deltaAxis(g) {
  return { gridIndex: g, type: 'value', position: 'right', min: 0, max: 8, interval: 1, splitLine: { show: false }, axisLine: { show: false },
    axisTick: { length: 20, lineStyle: { color: '#000', width: 3 } },
    axisLabel: { formatter: v => String(deltaTicks[v]).replace('-', '−'), fontFamily: 'DejaVu Sans', fontSize: 42, color: '#000', margin: 36, padding: [14, 0, 0, 0] } };
}

const tickStyle = { length: 18, lineStyle: { color: '#000', width: 3 } };
const grid = panels.concat(bars).map(b => ({ left: b.left, top: b.top, width: b.width, height: b.height, outerBoundsMode: 'none' }));
const xAxis = panels.map((p, g) => ({
  gridIndex: g, type: 'value', min: p.x[0], max: p.x[1], inverse: true, splitLine: { show: false }, axisLine: { show: false },
  axisTick: Object.assign({ customValues: lonTicks }, tickStyle),
  axisLabel: { customValues: lonTicks, formatter: v => v + '°W', fontFamily: 'DejaVu Sans', fontSize: 44, color: '#000', margin: 30 }
})).concat(bars.map((b, i) => ({ gridIndex: i + 4, type: 'value', min: 0, max: 1, show: false })));
const yAxis = [
  { gridIndex: 0, type: 'value', min: pA.y[0], max: pA.y[1], inverse: true, splitLine: { show: false }, axisLine: { show: false },
    axisTick: Object.assign({ customValues: latTicks }, tickStyle),
    axisLabel: { customValues: latTicks, formatter: v => v + '°S', fontFamily: 'DejaVu Sans', fontSize: 44, color: '#000', margin: 34 } },
  { gridIndex: 1, type: 'value', min: pB.y[0], max: pB.y[1], inverse: true, splitLine: { show: false }, axisLine: { show: false },
    axisTick: { show: false }, axisLabel: { show: false } },
  { gridIndex: 2, type: 'value', min: pC.y[0], max: pC.y[1], inverse: true, splitLine: { show: false }, axisLine: { show: false },
    name: 'depth (m)', nameLocation: 'middle', nameGap: 174, nameMoveOverlap: false, nameTextStyle: { fontFamily: 'DejaVu Sans', fontSize: 44, color: '#000' },
    axisTick: Object.assign({ customValues: depthTicks }, tickStyle),
    axisLabel: { customValues: depthTicks, formatter: v => String(v), fontFamily: 'DejaVu Sans', fontSize: 42, color: '#000', margin: 34 } },
  { gridIndex: 3, type: 'value', min: pD.y[0], max: pD.y[1], inverse: true, splitLine: { show: false }, axisLine: { show: false },
    axisTick: Object.assign({ customValues: secDepthGrid }, tickStyle), axisLabel: { show: false } },
  phiAxis(4), deltaAxis(5), phiAxis(6), deltaAxis(7)
];

const chart = echarts.init(document.getElementById('chart'));
chart.setOption({ animation: false, backgroundColor: '#fff', grid, xAxis, yAxis, series });
</script>
</body>
</html>
